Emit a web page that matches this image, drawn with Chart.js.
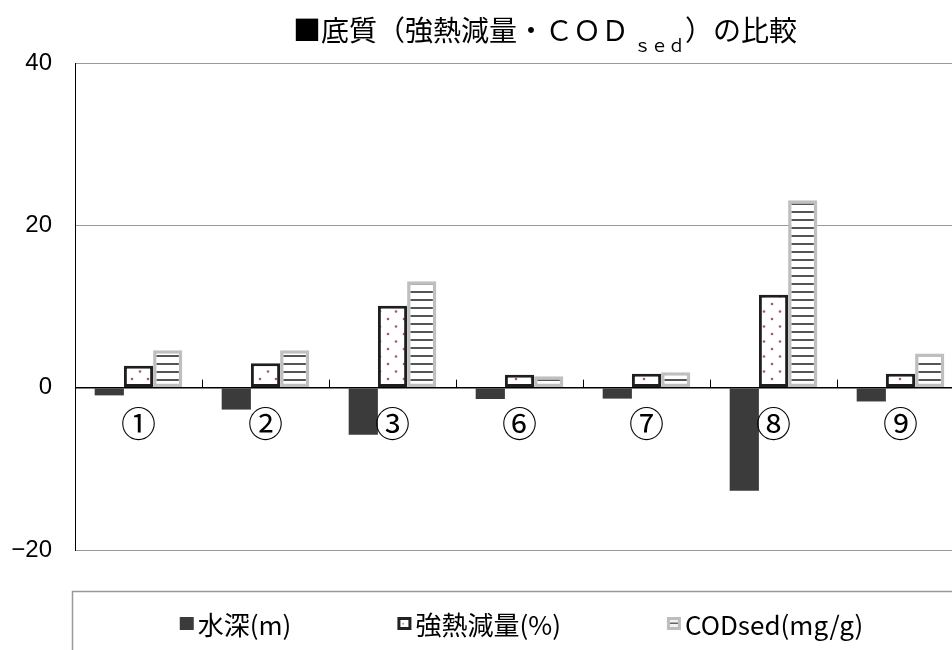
<!DOCTYPE html>
<html><head><meta charset="utf-8">
<script src="https://cdn.jsdelivr.net/npm/chart.js@4/dist/chart.umd.min.js"></script>
<style>html,body{margin:0;padding:0;overflow:hidden;background:#fff;width:952px;height:650px}
canvas{display:block}</style></head>
<body><canvas id="c" width="1090" height="700"></canvas>
<script>
const categories = ['①','②','③','⑥','⑦','⑧','⑨'];
const depth = [-0.95,-2.7,-5.8,-1.4,-1.35,-12.7,-1.7];
const ignitionLoss = [2.7,3.0,10.1,1.6,1.7,11.45,1.7];
const codSed = [4.6,4.6,13.1,1.4,1.9,23.1,4.2];
const seriesLabels = ['水深(m)','強熱減量(%)','CODsed(mg/g)'];
const yMin = -20, yMax = 40, yStep = 20;
const titleParts = ['■底質（強熱減量・ＣＯＤ','ｓｅｄ','）の比較'];

const CJK = '"Noto Sans CJK JP", sans-serif';

function dotPattern(){
  const c = document.createElement('canvas'); c.width = 16; c.height = 15;
  const g = c.getContext('2d');
  g.fillStyle = '#fff'; g.fillRect(0,0,16,15);
  g.fillStyle = '#b0507c';
  g.beginPath(); g.arc(4,4,1.3,0,Math.PI*2); g.fill();
  g.beginPath(); g.arc(12,11.5,1.3,0,Math.PI*2); g.fill();
  return g.createPattern(c,'repeat');
}
function linePattern(){
  const c = document.createElement('canvas'); c.width = 8; c.height = 8;
  const g = c.getContext('2d');
  g.fillStyle = '#fff'; g.fillRect(0,0,8,8);
  g.fillStyle = '#555'; g.fillRect(0,3,8,2);
  return g.createPattern(c,'repeat');
}

const overlay = {
  id: 'overlay',
  afterDatasetsDraw(chart){
    const {ctx, scales:{x, y}} = chart;
    const y0 = y.getPixelForValue(0);
    ctx.save();
    ctx.strokeStyle = '#000'; ctx.lineWidth = 1;
    for (let i = 1; i < categories.length; i++){
      const px = Math.round((x.getPixelForValue(i-1) + x.getPixelForValue(i))/2) + 0.5;
      ctx.beginPath(); ctx.moveTo(px, y0); ctx.lineTo(px, y0 - 8); ctx.stroke();
    }
    ctx.fillStyle = '#000';
    ctx.font = '35px ' + CJK;
    ctx.textAlign = 'center'; ctx.textBaseline = 'middle';
    categories.forEach((c, i) => ctx.fillText(c, x.getPixelForValue(i), y0 + 36));
    ctx.restore();
  },
  afterDraw(chart){
    const {ctx, chartArea, width} = chart;
    ctx.save();
    // title
    const f1 = '28px ' + CJK, f2 = '17px ' + CJK, subGap = 5;
    ctx.font = f1; const w1 = ctx.measureText(titleParts[0]).width;
    const w3 = ctx.measureText(titleParts[2]).width;
    ctx.font = f2; const w2 = ctx.measureText(titleParts[1]).width;
    let tx = width/2 - (w1+w2+w3+subGap)/2;
    ctx.fillStyle = '#000'; ctx.textAlign = 'left'; ctx.textBaseline = 'alphabetic';
    ctx.font = f1; ctx.fillText(titleParts[0], tx, 41); tx += w1 + subGap;
    ctx.font = f2; ctx.fillText(titleParts[1], tx, 52); tx += w2;
    ctx.font = f1; ctx.fillText(titleParts[2], tx, 41);
    // legend box
    ctx.strokeStyle = '#999'; ctx.lineWidth = 1.5;
    ctx.strokeRect(72.5, 591.5, (chartArea.left+chartArea.right) - 144, 90);
    // legend items
    ctx.font = '26px ' + CJK;
    const gap = 106, mk = 14, mg = 4;
    const widths = seriesLabels.map(s => mk + mg + ctx.measureText(s).width);
    const total = widths.reduce((a,b)=>a+b,0) + gap*(widths.length-1);
    let lx = (chartArea.left + chartArea.right)/2 + 2 - total/2;
    const ly = 624;
    ctx.textBaseline = 'middle';
    seriesLabels.forEach((s, i) => {
      const top = ly - 7;
      if (i === 0){ ctx.fillStyle = '#3b3b3b'; ctx.fillRect(lx, top, mk, mk-1); }
      else if (i === 1){
        ctx.fillStyle = '#222'; ctx.fillRect(lx, top, mk, mk-1);
        ctx.fillStyle = '#fff'; ctx.fillRect(lx+3, top+3, mk-6, mk-7);
        ctx.fillStyle = '#c07090'; ctx.fillRect(lx+5, top+6, 1.5, 1.5);
      } else {
        ctx.fillStyle = '#bdbdbd'; ctx.fillRect(lx, top, mk, mk-1);
        ctx.fillStyle = '#f2f2f2'; ctx.fillRect(lx+3, top+3, mk-6, mk-7);
        ctx.fillStyle = '#666'; ctx.fillRect(lx+3, top+5.5, mk-6, 1.5);
      }
      ctx.fillStyle = '#000';
      ctx.fillText(s, lx + mk + mg, ly + 1);
      lx += widths[i] + gap;
    });
    ctx.restore();
  }
};

new Chart(document.getElementById('c'), {
  type: 'bar',
  data: {
    labels: categories,
    datasets: [
      {label: seriesLabels[0], data: depth, backgroundColor: '#3b3b3b', borderWidth: 0},
      {label: seriesLabels[1], data: ignitionLoss, backgroundColor: dotPattern(), borderColor: '#1e1e1e', borderWidth: 3, borderSkipped: false},
      {label: seriesLabels[2], data: codSed, backgroundColor: linePattern(), borderColor: '#bfbfbf', borderWidth: 3.5, borderSkipped: false}
    ]
  },
  options: {
    responsive: false,
    animation: false,
    events: [],
    layout: {padding: {top: 63, bottom: 150, left: 0, right: 126}},
    categoryPercentage: 0.69,
    barPercentage: 1.0,
    plugins: {legend: {display: false}, title: {display: false}, tooltip: {enabled: false}},
    scales: {
      x: {display: false, offset: true},
      y: {
        min: yMin, max: yMax,
        afterFit(scale){ scale.width = 75; },
        ticks: {
          stepSize: yStep, padding: 23, color: '#000',
          font: {family: '"Liberation Sans", Arial, sans-serif', size: 24},
          callback: v => v < 0 ? '\u2212' + Math.abs(v) : String(v)
        },
        grid: {
          drawTicks: false,
          color: c => c.tick && c.tick.value === 0 ? '#000' : '#999',
          lineWidth: c => c.tick && c.tick.value === 0 ? 1.5 : 1
        },
        border: {display: true, color: '#000', width: 1}
      }
    }
  },
  plugins: [overlay]
});
</script></body></html>
